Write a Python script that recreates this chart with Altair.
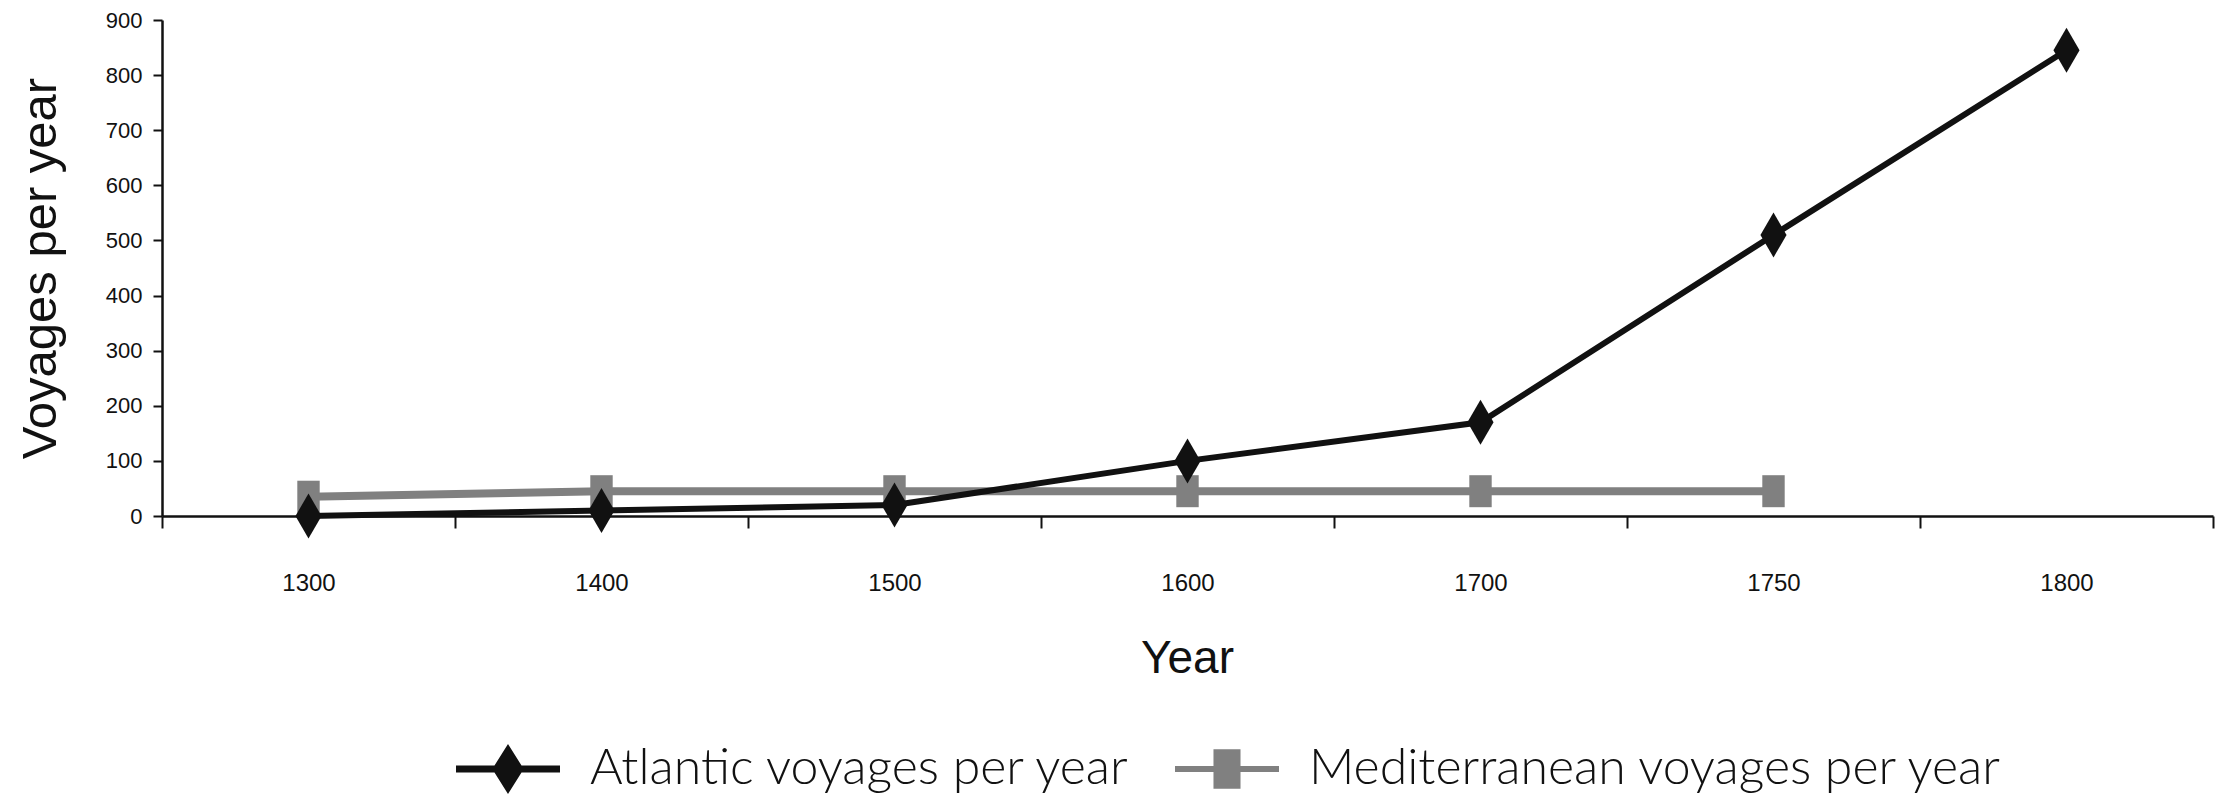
import altair as alt
import pandas as pd

years = ["1300", "1400", "1500", "1600", "1700", "1750", "1800"]
atlantic = [0, 10, 20, 100, 170, 510, 845]
mediterranean = [35, 45, 45, 45, 45, 45, None]
series_names = ["Atlantic voyages per year", "Mediterranean voyages per year"]
series_colors = ["#111111", "#808080"]

rows = []
for y, a, m in zip(years, atlantic, mediterranean):
    rows.append({"year": y, "series": series_names[0], "value": a})
    if m is not None:
        rows.append({"year": y, "series": series_names[1], "value": m})
df = pd.DataFrame(rows)

DIAMOND = "M0,-1L0.58,0L0,1L-0.58,0Z"
SQUARE = "M-0.7,-1H0.7V1H-0.7Z"
LEG_DIAMOND = "M-1,-0.067H-0.26L0,-0.48L0.26,-0.067H1V0.067H0.26L0,0.48L-0.26,0.067H-1Z"
LEG_SQUARE = "M-1,-0.06H-0.26V-0.38H0.26V-0.06H1V0.06H0.26V0.38H-0.26V0.06H-1Z"

narrow = "Liberation Sans Narrow, Arial Narrow, Liberation Sans, sans-serif"
sans = "Liberation Sans, Arial, sans-serif"

x_enc = alt.X(
    "year:O",
    sort=years,
    bandPosition=0.5,
    scale=alt.Scale(type="band", domain=years, paddingInner=0, paddingOuter=0),
    axis=alt.Axis(
        title="Year", labelAngle=0, labelFont=narrow, labelFontSize=24, labelColor="#111",
        labelBaseline="alphabetic", tickBand="extent", tickSize=12, tickWidth=2,
        tickColor="#111", labelPadding=62, domainColor="#111", domainWidth=2.5,
        titleFont=sans, titleFontSize=46, titleFontWeight="normal", titleColor="#111",
        titleBaseline="alphabetic", titleX=1025, titleY=156,
    ),
)
y_enc = alt.Y(
    "value:Q",
    scale=alt.Scale(domain=[0, 900], nice=False),
    axis=alt.Axis(
        title="Voyages per year", values=list(range(0, 901, 100)), grid=False,
        labelFont=narrow, labelFontSize=22, labelColor="#111", tickSize=9, tickWidth=2,
        tickColor="#111", labelPadding=11, domainColor="#111", domainWidth=2.5,
        titleFont=sans, titleFontSize=49, titleFontWeight="normal", titleColor="#111",
        titleAngle=270, titleBaseline="alphabetic", titleAlign="center",
        titleX=-107, titleY=248,
    ),
)

base = alt.Chart(df).encode(x=x_enc, y=y_enc)

med_line = base.transform_filter(alt.datum.series == series_names[1]).mark_line(
    color=series_colors[1], strokeWidth=8)
med_pts = base.transform_filter(alt.datum.series == series_names[1]).mark_point(
    shape=SQUARE, size=1024, filled=True, opacity=1, color=series_colors[1])
atl_line = base.transform_filter(alt.datum.series == series_names[0]).mark_line(
    color=series_colors[0], strokeWidth=6)
atl_pts = base.transform_filter(alt.datum.series == series_names[0]).mark_point(
    shape=DIAMOND, size=2025, filled=True, opacity=1, color=series_colors[0])

legend_layer = alt.Chart(df).transform_filter("false").mark_point(
    filled=True, opacity=1, size=10816).encode(
    x=x_enc, y=y_enc,
    color=alt.Color("series:N", scale=alt.Scale(domain=series_names, range=series_colors),
                    legend=alt.Legend(title=None)),
    shape=alt.Shape("series:N", scale=alt.Scale(domain=series_names, range=[LEG_DIAMOND, LEG_SQUARE]),
                    legend=alt.Legend(title=None)),
)

chart = alt.layer(med_line, med_pts, atl_line, atl_pts, legend_layer).properties(
    width=2051, height=496,
    padding={"left": 154, "top": 12, "right": 10, "bottom": 284},
    autosize=alt.AutoSizeParams(type="none"),
).configure_view(stroke=None).configure_legend(
    orient="none", legendX=294, legendY=697, direction="horizontal",
    symbolSize=10816, symbolStrokeWidth=0, labelFont="Lato", labelFontWeight=300,
    labelFontSize=50, labelColor="#111", labelOffset=30, columnPadding=43,
    labelLimit=1000, padding=0,
)

chart.save("out.html", embed_options={"renderer": "svg", "actions": False})
